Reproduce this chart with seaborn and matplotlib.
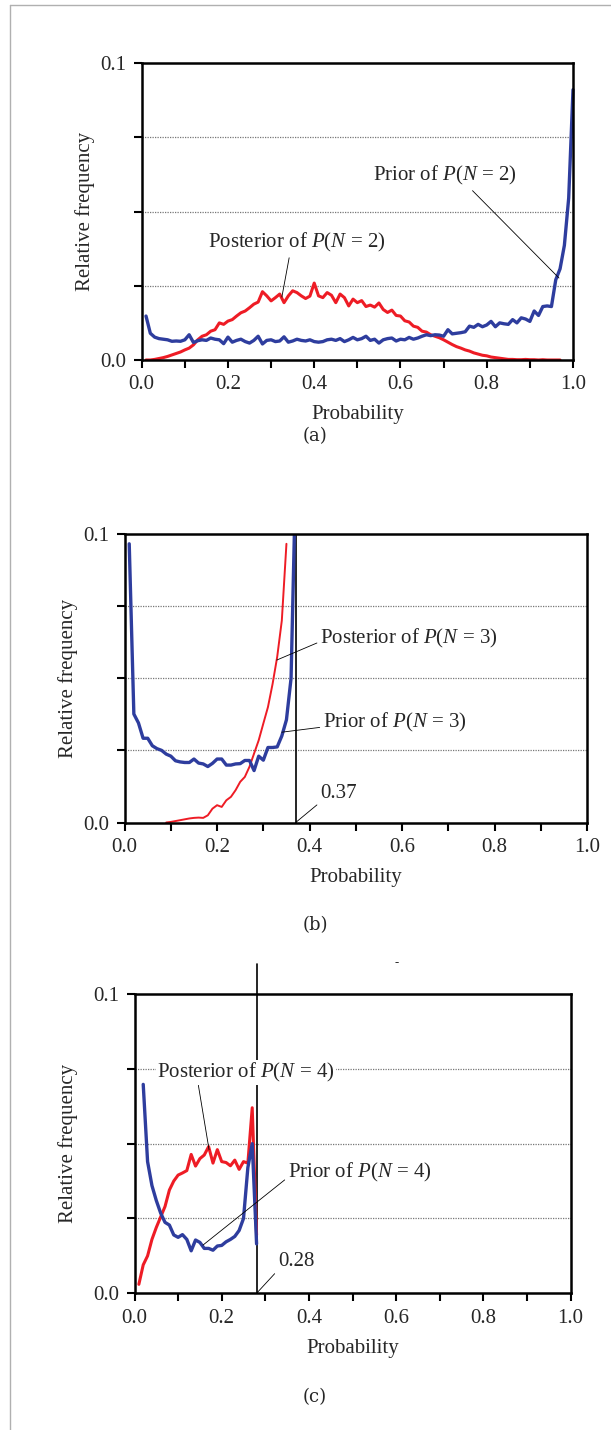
import numpy as np
import matplotlib
matplotlib.use('Agg')
import matplotlib.pyplot as plt
from matplotlib.lines import Line2D
from matplotlib.ticker import FixedLocator
import seaborn as sns

# ---- panel (a): N = 2 ----
prob_a = np.round(np.arange(1, 101) * 0.01, 2)
post_a = [
    0.0, 0.0, 0.0002, 0.0005, 0.0008, 0.0012, 0.0017, 0.0022, 0.0027, 0.0034,
    0.0040, 0.0051, 0.0068, 0.0080, 0.0085, 0.0097, 0.0102, 0.0125, 0.0120, 0.0131,
    0.0136, 0.0148, 0.0159, 0.0165, 0.0176, 0.0188, 0.0195, 0.0230, 0.0216, 0.0199,
    0.0210, 0.0222, 0.0193, 0.0216, 0.0233, 0.0227, 0.0216, 0.0207, 0.0215, 0.0259,
    0.0216, 0.0210, 0.0227, 0.0218, 0.0193, 0.0222, 0.0210, 0.0182, 0.0205, 0.0193,
    0.0200, 0.0180, 0.0185, 0.0178, 0.0192, 0.0170, 0.0160, 0.0168, 0.0150, 0.0148,
    0.0132, 0.0128, 0.0114, 0.0110, 0.0097, 0.0094, 0.0085, 0.0080, 0.0075, 0.0068,
    0.0060, 0.0052, 0.0045, 0.0040, 0.0034, 0.0030, 0.0024, 0.0020, 0.0016, 0.0014,
    0.0010, 0.0008, 0.0006, 0.0004, 0.0002, 0.0002, 0.0001, 0.0001, 0.0002, 0.0001,
    0.0001, 0.0, 0.0001, 0.0, 0.0, 0.0, 0.0,
]
prior_a = [
    0.0148, 0.0090, 0.0077, 0.0072, 0.0070, 0.0068, 0.0063, 0.0064, 0.0063, 0.0068,
    0.0085, 0.0059, 0.0065, 0.0068, 0.0066, 0.0074, 0.0070, 0.0068, 0.0055, 0.0077,
    0.0060, 0.0066, 0.0070, 0.0062, 0.0057, 0.0066, 0.0080, 0.0054, 0.0066, 0.0068,
    0.0062, 0.0064, 0.0078, 0.0060, 0.0064, 0.0070, 0.0066, 0.0064, 0.0068, 0.0062,
    0.0060, 0.0062, 0.0068, 0.0070, 0.0066, 0.0072, 0.0062, 0.0068, 0.0076, 0.0068,
    0.0072, 0.0080, 0.0066, 0.0070, 0.0057, 0.0068, 0.0072, 0.0074, 0.0064, 0.0070,
    0.0068, 0.0076, 0.0070, 0.0074, 0.0080, 0.0085, 0.0082, 0.0085, 0.0084, 0.0080,
    0.0102, 0.0088, 0.0090, 0.0092, 0.0095, 0.0114, 0.0110, 0.0120, 0.0112, 0.0118,
    0.0130, 0.0112, 0.0125, 0.0122, 0.0120, 0.0136, 0.0125, 0.0142, 0.0138, 0.0130,
    0.0165, 0.0150, 0.0180, 0.0182, 0.0180, 0.0270, 0.0307, 0.0386, 0.0545, 0.0910,
]

# ---- panel (b): N = 3 ----
prob_b_prior = np.round(np.arange(1, 38) * 0.01, 2)
prior_b = [
    0.0966, 0.0376, 0.0345, 0.0292, 0.0292, 0.0266, 0.0256, 0.0250, 0.0237, 0.0230,
    0.0214, 0.0210, 0.0208, 0.0208, 0.0220, 0.0206, 0.0203, 0.0194, 0.0205, 0.0220,
    0.0220, 0.0199, 0.0199, 0.0203, 0.0204, 0.0215, 0.0215, 0.0180, 0.0230, 0.0216,
    0.0260, 0.0260, 0.0262, 0.0300, 0.0356, 0.0500, 0.1200,
]
prob_b_post = np.round(np.arange(9, 36) * 0.01, 2)
post_b = [
    0.0, 0.0002, 0.0005, 0.0008, 0.0011, 0.0014, 0.0016, 0.0017, 0.0016, 0.0025,
    0.0048, 0.0060, 0.0054, 0.0077, 0.0089, 0.0112, 0.0141, 0.0158, 0.0193, 0.0239,
    0.0285, 0.0343, 0.0400, 0.0480, 0.0574, 0.0700, 0.0966,
]
cut_b = 0.37

# ---- panel (c): N = 4 ----
prob_c_prior = np.round(np.arange(2, 29) * 0.01, 2)
prior_c = [
    0.0698, 0.0440, 0.0360, 0.0310, 0.0268, 0.0237, 0.0228, 0.0195, 0.0187, 0.0196,
    0.0180, 0.0142, 0.0178, 0.0170, 0.0150, 0.0150, 0.0144, 0.0158, 0.0160, 0.0172,
    0.0180, 0.0190, 0.0210, 0.0250, 0.0420, 0.0500, 0.0165,
]
prob_c_post = np.round(np.arange(1, 29) * 0.01, 2)
post_c = [
    0.0030, 0.0095, 0.0125, 0.0180, 0.0220, 0.0255, 0.0290, 0.0345, 0.0375, 0.0395,
    0.0402, 0.0410, 0.0464, 0.0425, 0.0450, 0.0462, 0.0490, 0.0435, 0.0480, 0.0440,
    0.0437, 0.0426, 0.0445, 0.0414, 0.0440, 0.0435, 0.0620, 0.0195,
]
cut_c = 0.28

RED = '#ee1c25'
BLUE = '#2e3d9e'

sns.set_style('white')
plt.rcParams['font.family'] = ['Liberation Serif', 'DejaVu Serif']
plt.rcParams['mathtext.fontset'] = 'custom'
plt.rcParams['mathtext.rm'] = 'Liberation Serif'
plt.rcParams['mathtext.it'] = 'Liberation Serif:italic'
FS = 15

fig = plt.figure(figsize=(6.11, 14.3), dpi=100)
W, H = 611, 1430


def add_axes(left, right, top, bottom):
    return fig.add_axes([left / W, 1 - bottom / H, (right - left) / W, (bottom - top) / H])


def style_axes(ax, ylab_x):
    ax.set_xlim(0, 1)
    ax.set_ylim(0, 0.1)
    ax.xaxis.set_major_locator(FixedLocator([0, 0.2, 0.4, 0.6, 0.8, 1.0]))
    ax.xaxis.set_minor_locator(FixedLocator([0.1, 0.3, 0.5, 0.7, 0.9]))
    ax.set_xticklabels(['0.0', '0.2', '0.4', '0.6', '0.8', '1.0'])
    ax.yaxis.set_major_locator(FixedLocator([0, 0.025, 0.05, 0.075, 0.1]))
    ax.set_yticklabels(['0.0', '', '', '', '0.1'])
    ax.tick_params(axis='both', which='both', direction='out', length=6, width=1.5,
                   color='black', labelsize=FS, pad=5, bottom=True, left=True)
    for y in [0.025, 0.05, 0.075]:
        ax.axhline(y, color='#777777', lw=0.9, ls=(0, (1, 1)), zorder=0.5)
    for s in ax.spines.values():
        s.set_color('black')
        s.set_linewidth(1.8)
    ax.set_xlabel('Probability', fontsize=FS, labelpad=8)
    ax.set_ylabel('Relative frequency', fontsize=FS)
    ax.yaxis.set_label_coords(ylab_x, 0.5)
    ax.set_facecolor('white')


def leader(ax, text, xy, xytext, relpos, ha='left', box=False):
    kw = dict(fontsize=FS, ha=ha, va='center', textcoords='data',
              arrowprops=dict(arrowstyle='-', lw=0.6, color='black',
                              shrinkA=0, shrinkB=0, relpos=relpos))
    if box:
        kw['bbox'] = dict(boxstyle='square,pad=0.05', fc='white', ec='none')
    ax.annotate(text, xy=xy, xytext=xytext, **kw)


# (a)
ax_a = add_axes(141.7, 573, 63, 360)
style_axes(ax_a, -0.108)
sns.lineplot(x=prob_a[:len(post_a)], y=post_a, ax=ax_a, color=RED, lw=2.2,
             estimator=None, sort=False)
sns.lineplot(x=prob_a, y=prior_a, ax=ax_a, color=BLUE, lw=2.4,
             estimator=None, sort=False, clip_on=False)
leader(ax_a, 'Posterior of $P$($N$ = 2)', (0.325, 0.0212), (0.154, 0.0394), (0.46, 0.0))
leader(ax_a, 'Prior of $P$($N$ = 2)', (0.9675, 0.0276), (0.536, 0.062), (0.67, 0.0))

# (b)
ax_b = add_axes(124.6, 587, 534, 822.5)
style_axes(ax_b, -0.101)
ax_b.axvline(cut_b, color='black', lw=1.2, zorder=1)
sns.lineplot(x=prob_b_post, y=post_b, ax=ax_b, color=RED, lw=1.4,
             estimator=None, sort=False)
sns.lineplot(x=prob_b_prior, y=prior_b, ax=ax_b, color=BLUE, lw=2.4,
             estimator=None, sort=False)
leader(ax_b, 'Posterior of $P$($N$ = 3)', (0.329, 0.0563), (0.423, 0.0639), (0.0, 0.35))
leader(ax_b, 'Prior of $P$($N$ = 3)', (0.340, 0.0313), (0.429, 0.0347), (0.0, 0.3))
leader(ax_b, '0.37', (cut_b, 0.0), (0.423, 0.0100), (0.0, 0.05))

# (c)
ax_c = add_axes(134.5, 570.5, 994, 1293.3)
style_axes(ax_c, -0.130)
ax_c.plot([cut_c, cut_c], [0, 0.11], color='black', lw=1.2, clip_on=False, zorder=1)
sns.lineplot(x=prob_c_post, y=post_c, ax=ax_c, color=RED, lw=2.2,
             estimator=None, sort=False)
sns.lineplot(x=prob_c_prior, y=prior_c, ax=ax_c, color=BLUE, lw=2.4,
             estimator=None, sort=False)
leader(ax_c, 'Posterior of $P$($N$ = 4)', (0.171, 0.048), (0.256, 0.0737), (0.23, 0.0),
       ha='center', box=True)
leader(ax_c, 'Prior of $P$($N$ = 4)', (0.157, 0.0161), (0.352, 0.0403), (0.0, 0.3))
leader(ax_c, '0.28', (cut_c, 0.0), (0.329, 0.0106), (0.0, 0.05))

for ax in (ax_a, ax_b, ax_c):
    leg = ax.get_legend()
    if leg is not None:
        leg.remove()

# panel captions
for lab, ypix in [('(a)', 436), ('(b)', 925), ('(c)', 1397)]:
    fig.text(315 / W, 1 - ypix / H, lab, fontsize=13, ha='center', va='center',
             family='DejaVu Serif')
fig.text(397 / W, 1 - 963 / H, '-', fontsize=9, ha='center', va='center')

# page frame
fig.add_artist(Line2D([9.8 / W, 9.8 / W], [0, 1 - 4.7 / H], color='#b0b0b0', lw=1.0))
fig.add_artist(Line2D([9.8 / W, 1], [1 - 4.7 / H, 1 - 4.7 / H], color='#b0b0b0', lw=1.0))

fig.savefig('out.png', dpi=100, facecolor='white')
